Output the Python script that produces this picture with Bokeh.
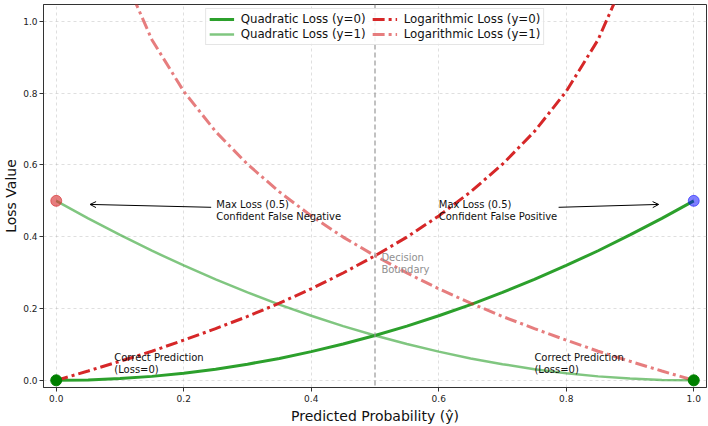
from bokeh.plotting import figure
from bokeh.models import Range1d, FixedTicker, Span, Arrow, OpenHead, Legend, LegendItem, CustomJSTickFormatter
from bokeh.core.properties import value
from bokeh.embed import file_html
from bokeh.resources import INLINE

FONT = "DejaVu Sans"

# ---- data ----
prob = [0.00, 0.05, 0.10, 0.15, 0.20, 0.25, 0.30, 0.35, 0.40, 0.45, 0.50,
        0.55, 0.60, 0.65, 0.70, 0.75, 0.80, 0.85, 0.90, 0.95, 1.00]
quad_y0 = [0.000, 0.001, 0.005, 0.011, 0.020, 0.031, 0.045, 0.061, 0.080, 0.101, 0.125,
           0.151, 0.180, 0.211, 0.245, 0.281, 0.320, 0.361, 0.405, 0.451, 0.500]
quad_y1 = [0.500, 0.451, 0.405, 0.361, 0.320, 0.281, 0.245, 0.211, 0.180, 0.151, 0.125,
           0.101, 0.080, 0.061, 0.045, 0.031, 0.020, 0.011, 0.005, 0.001, 0.000]
prob_log0 = prob[:-1]
log_y0 = [0.000, 0.026, 0.053, 0.081, 0.112, 0.144, 0.178, 0.215, 0.255, 0.299, 0.347,
          0.399, 0.458, 0.525, 0.602, 0.693, 0.805, 0.949, 1.151, 1.498]
prob_log1 = prob[1:]
log_y1 = [1.498, 1.151, 0.949, 0.805, 0.693, 0.602, 0.525, 0.458, 0.399, 0.347,
          0.299, 0.255, 0.215, 0.178, 0.144, 0.112, 0.081, 0.053, 0.026, 0.000]
ticks = [0.0, 0.2, 0.4, 0.6, 0.8, 1.0]
decision_boundary = 0.5

RED = "#d62728"
GREEN = "#2ca02c"

p = figure(width=708, height=426, output_backend="svg", toolbar_location=None,
           x_range=Range1d(-0.02, 1.02), y_range=Range1d(-0.02, 1.047),
           min_border_left=10, min_border_right=2, min_border_top=4, min_border_bottom=10)

p.outline_line_color = "#333333"
p.outline_line_width = 1
p.background_fill_color = "white"
p.border_fill_color = "white"

fmt = CustomJSTickFormatter(code="return tick.toFixed(1);")
for ax in (p.xaxis[0], p.yaxis[0]):
    ax.ticker = FixedTicker(ticks=ticks)
    ax.formatter = fmt
    ax.major_label_text_font = FONT
    ax.major_label_text_font_size = "9px"
    ax.major_label_text_color = "#222222"
    ax.axis_label_text_font = FONT
    ax.axis_label_text_font_size = "14px"
    ax.axis_label_text_font_style = "normal"
    ax.axis_label_text_color = "#111111"
    ax.minor_tick_line_color = None
    ax.major_tick_out = 4
    ax.major_tick_in = 0
    ax.axis_line_color = "#333333"
    ax.major_tick_line_color = "#333333"
    ax.major_label_standoff = 2
    ax.axis_label_standoff = 1

p.xaxis.axis_label = "Predicted Probability (ŷ)"
p.yaxis.axis_label = "Loss Value"
p.xaxis[0].major_label_standoff = 3
p.xaxis[0].axis_label_standoff = 3

p.grid.grid_line_color = "#b0b0b0"
p.grid.grid_line_alpha = 0.4
p.grid.grid_line_dash = "3 3"
p.xgrid.ticker = FixedTicker(ticks=ticks)
p.ygrid.ticker = FixedTicker(ticks=ticks)

vline = Span(location=decision_boundary, dimension="height", line_color="#999999",
             line_dash="5 3", line_width=1.5, line_alpha=0.8)
p.add_layout(vline)

r_q0 = p.line(prob, quad_y0, line_color=GREEN, line_width=3)
r_q1 = p.line(prob, quad_y1, line_color=GREEN, line_width=2.5, line_alpha=0.6)
r_l0 = p.line(prob_log0, log_y0, line_color=RED, line_width=3, line_dash="12 4 3 4")
r_l1 = p.line(prob_log1, log_y1, line_color=RED, line_width=3, line_alpha=0.6, line_dash="12 4 3 4")

# markers
p.scatter([0.0], [0.5], size=11, fill_color=RED, line_color=RED, alpha=0.6)
p.scatter([1.0], [0.5], size=11, fill_color="blue", line_color="blue", alpha=0.5)
p.scatter([0.0, 1.0], [0.0, 0.0], size=11, fill_color="green", line_color="green")

# annotations
ann_x = [0.251, 0.600]
ann_y = [0.474, 0.474]
ann_t = ["Max Loss (0.5)\nConfident False Negative", "Max Loss (0.5)\nConfident False Positive"]
p.text(ann_x, ann_y, text=ann_t, text_font=value(FONT), text_font_size="10px",
       text_baseline="middle", text_align="left", text_color="#111111", text_line_height=1.1)
cp_x = [0.091, 0.750]
cp_y = [0.046, 0.046]
cp_t = ["Correct Prediction\n(Loss=0)", "Correct Prediction\n(Loss=0)"]
p.text(cp_x, cp_y, text=cp_t, text_font=value(FONT), text_font_size="10px",
       text_baseline="middle", text_align="left", text_color="#111111", text_line_height=1.1)
p.text([0.51], [0.326], text=["Decision\nBoundary"], text_font=value(FONT), text_font_size="10px",
       text_baseline="middle", text_align="left", text_color="#909090", text_line_height=1.1)

p.add_layout(Arrow(end=OpenHead(size=6, line_width=1, line_color="black"),
                   x_start=0.243, y_start=0.482, x_end=0.053, y_end=0.490,
                   line_width=1, line_color="black"))
p.add_layout(Arrow(end=OpenHead(size=6, line_width=1, line_color="black"),
                   x_start=0.788, y_start=0.482, x_end=0.945, y_end=0.490,
                   line_width=1, line_color="black"))

legend = Legend(items=[
    LegendItem(label="Quadratic Loss (y=0)", renderers=[r_q0]),
    LegendItem(label="Quadratic Loss (y=1)", renderers=[r_q1]),
    LegendItem(label="Logarithmic Loss (y=0)", renderers=[r_l0]),
    LegendItem(label="Logarithmic Loss (y=1)", renderers=[r_l1]),
], location="top_center", ncols=2)
legend.label_text_font = FONT
legend.label_text_font_size = "11.8px"
legend.label_text_color = "#111111"
legend.glyph_width = 25
legend.glyph_height = 14
legend.label_height = 14
legend.label_width = 130
legend.label_standoff = 7
legend.spacing = 1
legend.padding = 3
legend.margin = 4
legend.border_line_color = "#cccccc"
legend.background_fill_alpha = 0.85
p.add_layout(legend)

open("out.html", "w").write(file_html(p, INLINE))
